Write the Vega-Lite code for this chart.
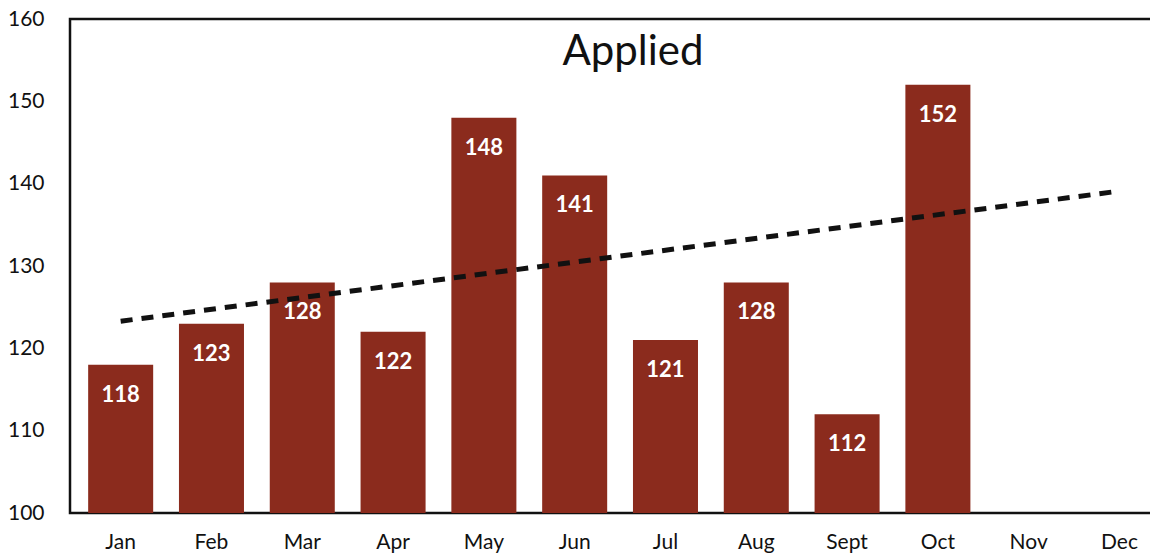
{
  "$schema": "https://vega.github.io/schema/vega-lite/v6.json",
  "autosize": "none",
  "width": 1082,
  "height": 494,
  "padding": {"left": 70, "top": 19, "right": 0, "bottom": 44},
  "background": "white",
  "config": {
    "view": {"stroke": "#111111", "strokeWidth": 2.5},
    "font": "Lato"
  },
  "title": {
    "text": "Applied",
    "fontSize": 42,
    "fontWeight": "normal",
    "font": "Lato",
    "color": "#111111",
    "anchor": "middle",
    "frame": "group",
    "dx": 22,
    "baseline": "top",
    "offset": -66
  },
  "datasets": {
    "bars": [
      {"month": "Jan", "applied": 118},
      {"month": "Feb", "applied": 123},
      {"month": "Mar", "applied": 128},
      {"month": "Apr", "applied": 122},
      {"month": "May", "applied": 148},
      {"month": "Jun", "applied": 141},
      {"month": "Jul", "applied": 121},
      {"month": "Aug", "applied": 128},
      {"month": "Sept", "applied": 112},
      {"month": "Oct", "applied": 152}
    ],
    "trend": [
      {"month": "Jan", "trend": 123.3},
      {"month": "Dec", "trend": 139.1}
    ]
  },
  "encoding": {
    "x": {
      "field": "month",
      "type": "nominal",
      "sort": null,
      "scale": {
        "domain": ["Jan", "Feb", "Mar", "Apr", "May", "Jun", "Jul", "Aug", "Sept", "Oct", "Nov", "Dec"],
        "paddingInner": 0.284,
        "paddingOuter": 0.1,
        "align": 1
      },
      "axis": {
        "title": null,
        "labelAngle": 0,
        "labelFontSize": 21,
        "labelColor": "#111111",
        "labelPadding": 18,
        "ticks": false,
        "domain": false
      }
    }
  },
  "layer": [
    {
      "data": {"name": "bars"},
      "mark": {"type": "bar", "color": "#8b2b1d", "clip": true},
      "encoding": {
        "y": {
          "field": "applied",
          "type": "quantitative",
          "scale": {"domain": [100, 160], "nice": false, "zero": false},
          "axis": {
            "title": null,
            "values": [100, 110, 120, 130, 140, 150, 160],
            "labelFontSize": 21,
            "labelColor": "#111111",
            "labelPadding": 26,
            "ticks": false,
            "domain": false,
            "grid": false
          }
        }
      }
    },
    {
      "data": {"name": "bars"},
      "mark": {"type": "text", "color": "white", "fontSize": 22, "fontWeight": "bold", "baseline": "middle", "dy": 30},
      "encoding": {
        "y": {"field": "applied", "type": "quantitative"},
        "text": {"field": "applied", "type": "quantitative"}
      }
    },
    {
      "data": {"name": "trend"},
      "mark": {"type": "line", "color": "#111111", "strokeWidth": 5, "strokeDash": [12, 9]},
      "encoding": {
        "y": {"field": "trend", "type": "quantitative"}
      }
    }
  ]
}
